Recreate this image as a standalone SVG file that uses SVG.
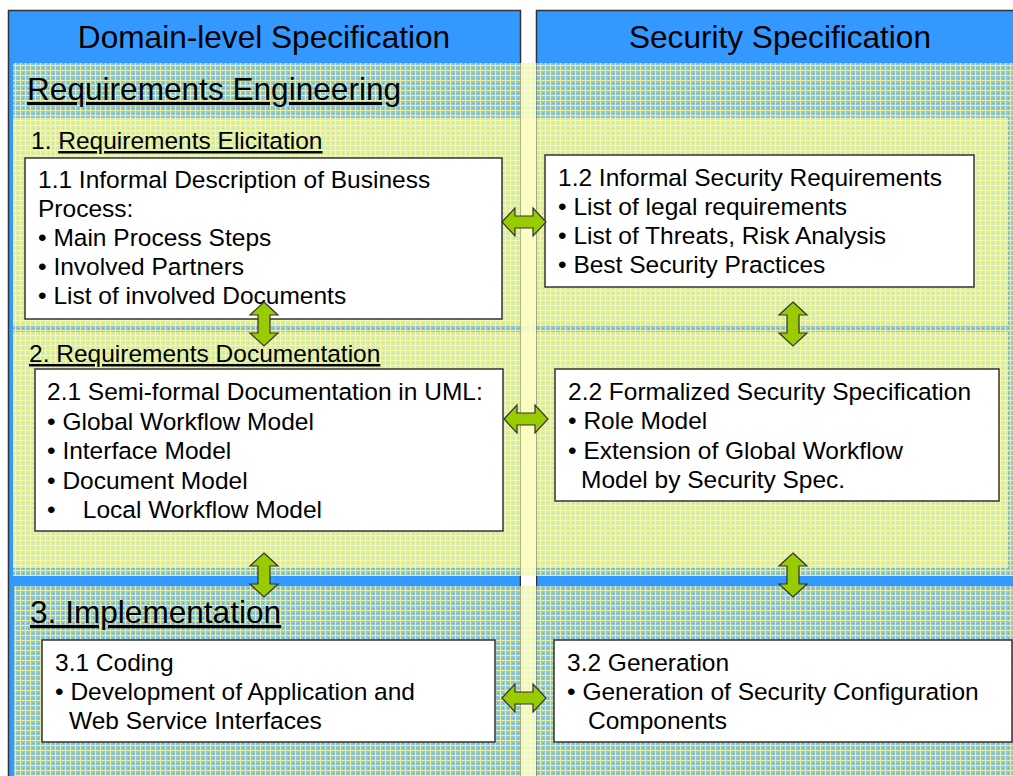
<svg xmlns="http://www.w3.org/2000/svg" width="1013" height="776" viewBox="0 0 1013 776">
<style>
  .col{fill:#3399FF;stroke:#333;stroke-width:1.5}
  .hdr{font-family:"Liberation Sans",Arial,sans-serif;font-size:31.6px;fill:#000}
  .sec{font-family:"Liberation Sans",Arial,sans-serif;font-size:31.6px;fill:#000}
  .sub{font-family:"Liberation Sans",Arial,sans-serif;font-size:24.5px;fill:#000}
  .txt{font-family:"Liberation Sans",Arial,sans-serif;font-size:24.5px;fill:#000}
  .box{fill:#fff;stroke:#333;stroke-width:1.5}
  .band{fill:#FFFF99;opacity:0.65}
  .gap{fill:#FFFFC8;opacity:0.85}
  .arr{fill:#99CC00;stroke:#333;stroke-width:1.2;stroke-linejoin:miter}
  .u{text-decoration:underline}
</style>
<defs>
  <pattern id="grid" x="0" y="0" width="5" height="5" patternUnits="userSpaceOnUse">
    <rect width="5" height="5" fill="#92C8CD"/>
    <rect x="0" y="0" width="5" height="1" fill="#E6EEA4"/>
    <rect x="0" y="0" width="1" height="5" fill="#E6EEA4"/>
    <rect x="3" y="3" width="1" height="1" fill="#5AA2DC"/>
  </pattern>
  <path id="dbl" d="M-22,0 L-9,-14 L-9,-6 L9,-6 L9,-14 L22,0 L9,14 L9,6 L-9,6 L-9,14 Z"/>
</defs>

<g id="columns">
  <rect class="col" x="8.5" y="10.5" width="512" height="800"/>
  <rect class="col" x="536.5" y="10.5" width="500" height="800"/>
  <text class="hdr" x="264" y="48" text-anchor="middle">Domain-level Specification</text>
  <text class="hdr" x="780" y="48" text-anchor="middle">Security Specification</text>
</g>

<g id="backgrounds">
  <rect x="13" y="63" width="1000" height="513" fill="url(#grid)"/>
  <rect class="band" x="13" y="118" width="995" height="207"/>
  <rect class="band" x="13" y="332" width="995" height="236"/>
  <rect x="14" y="586" width="999" height="190" fill="url(#grid)"/>
  <rect class="gap" x="521" y="63" width="15" height="513"/>
  <rect class="gap" x="521" y="586" width="15" height="190"/>
  <rect x="521" y="576" width="15" height="10" fill="#fff"/>
  <line x1="520.5" y1="63" x2="520.5" y2="776" stroke="#333" stroke-opacity="0.35"/>
  <line x1="536.5" y1="63" x2="536.5" y2="776" stroke="#333" stroke-opacity="0.35"/>
</g>

<g id="section-re">
  <text class="sec" x="27" y="100"><tspan class="u">Requirements Engineering</tspan></text>
</g>

<g id="section-1">
  <text class="sub" x="31" y="149">1. <tspan class="u">Requirements Elicitation</tspan></text>
</g>

<g id="node-1-1">
  <rect class="box" x="25" y="158" width="477" height="161"/>
  <text class="txt" x="38" y="188">1.1 Informal Description of Business</text>
  <text class="txt" x="38" y="217">Process:</text>
  <text class="txt" x="38" y="246">• Main Process Steps</text>
  <text class="txt" x="38" y="275">• Involved Partners</text>
  <text class="txt" x="38" y="304">• List of involved Documents</text>
</g>

<g id="node-1-2">
  <rect class="box" x="545" y="155" width="429" height="132"/>
  <text class="txt" x="558" y="186">1.2 Informal Security Requirements</text>
  <text class="txt" x="558" y="215">• List of legal requirements</text>
  <text class="txt" x="558" y="244">• List of Threats, Risk Analysis</text>
  <text class="txt" x="558" y="273">• Best Security Practices</text>
</g>

<g id="section-2">
  <text class="sub" x="29" y="362"><tspan class="u">2. Requirements Documentation</tspan></text>
</g>

<g id="node-2-1">
  <rect class="box" x="35" y="369" width="468" height="162"/>
  <text class="txt" x="47" y="400">2.1 Semi-formal Documentation in UML:</text>
  <text class="txt" x="47" y="430">• Global Workflow Model</text>
  <text class="txt" x="47" y="459">• Interface Model</text>
  <text class="txt" x="47" y="489">• Document Model</text>
  <text class="txt" x="47" y="518" xml:space="preserve">•    Local Workflow Model</text>
</g>

<g id="node-2-2">
  <rect class="box" x="555" y="369" width="444" height="132"/>
  <text class="txt" x="568" y="400">2.2 Formalized Security Specification</text>
  <text class="txt" x="568" y="429">• Role Model</text>
  <text class="txt" x="568" y="459">• Extension of Global Workflow</text>
  <text class="txt" x="581" y="488">Model by Security Spec.</text>
</g>

<g id="section-3">
  <text class="sec" x="30" y="623"><tspan class="u">3. Implementation</tspan></text>
</g>

<g id="node-3-1">
  <rect class="box" x="42" y="640" width="453" height="102"/>
  <text class="txt" x="55" y="671">3.1 Coding</text>
  <text class="txt" x="55" y="700">• Development of Application and</text>
  <text class="txt" x="69" y="729">Web Service Interfaces</text>
</g>

<g id="node-3-2">
  <rect class="box" x="554" y="640" width="458" height="102"/>
  <text class="txt" x="567" y="671">3.2 Generation</text>
  <text class="txt" x="567" y="700">• Generation of Security Configuration</text>
  <text class="txt" x="588" y="729">Components</text>
</g>

<g id="connectors">
  <use href="#dbl" class="arr" transform="translate(524,222)"/>
  <use href="#dbl" class="arr" transform="translate(264,324) rotate(90)"/>
  <use href="#dbl" class="arr" transform="translate(793,324) rotate(90)"/>
  <use href="#dbl" class="arr" transform="translate(526,419)"/>
  <use href="#dbl" class="arr" transform="translate(264,575) rotate(90)"/>
  <use href="#dbl" class="arr" transform="translate(793,575) rotate(90)"/>
  <use href="#dbl" class="arr" transform="translate(524,698)"/>
</g>
</svg>
